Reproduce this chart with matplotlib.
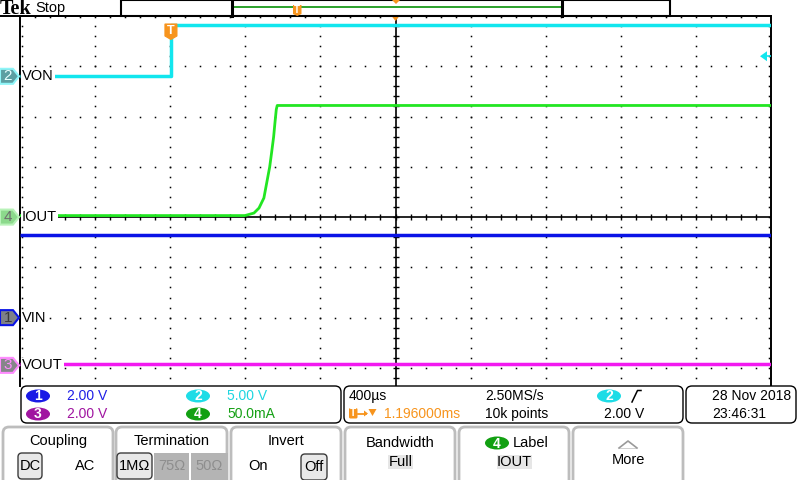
import matplotlib
matplotlib.use('Agg')
import matplotlib.pyplot as plt
from matplotlib.patches import FancyBboxPatch, Polygon, Ellipse, Rectangle
import numpy as np

plt.rcParams['font.family'] = ['Liberation Sans', 'DejaVu Sans']

# ---------------- data ----------------
time_div_us = 400.0          # 400 us/div
trigger_delay_us = 1196.0    # horizontal position (trigger -> center)
ch_names = ['VIN', 'VON', 'VOUT', 'IOUT']
ch_scale = [2.0, 5.0, 2.0, 50.0]          # V/div, V/div, V/div, mA/div
ch_offset_div = [-2.0, 2.8, -2.95, 0.0]   # ground marker positions (div)
trigger_level_v = 2.0

von_t_us = [-804, 0, 0, 3196]
von_v = [0.0, 0.0, 5.1, 5.1]
iout_t_us = [-804, 394, 442, 469, 495, 513, 526, 536, 547, 554, 561, 566, 3196]
iout_ma = [1.5, 1.5, 4, 9, 19, 37, 50, 64, 80, 94, 107, 111, 111]
vin_t_us = [-804, 3196]
vin_v = [3.3, 3.3]
vout_t_us = [-804, 3196]
vout_v = [0.04, 0.04]

readout_scales = ['2.00 V', '5.00 V', '2.00 V', '50.0mA']
# ---------------------------------------

C_CYAN = '#12E6EE'
C_GREEN = '#22E622'
C_BLUE = '#0A14E6'
C_MAG = '#F219F0'
C_ORANGE = '#F7941D'

fig = plt.figure(figsize=(8, 4.8), dpi=100)
fig.patch.set_facecolor('white')

W, H = 800, 480
L, T_, R, B = 20, 16, 771, 386
ax = fig.add_axes([L / W, 1 - B / H, (R - L) / W, (B - T_) / H], zorder=1)
x0 = trigger_delay_us - 5 * time_div_us
x1 = trigger_delay_us + 5 * time_div_us
ymin, ymax = -3.36, 4.0
ax.set_xlim(x0, x1)
ax.set_ylim(ymin, ymax)
ax.set_xticks([])
ax.set_yticks([])
for s in ['top', 'left', 'right']:
    ax.spines[s].set_color('black')
    ax.spines[s].set_linewidth(1.4)
ax.spines['bottom'].set_visible(False)

px_x = (x1 - x0) / (R - L)      # us per pixel
px_y = (ymax - ymin) / (B - T_)  # div per pixel

# graticule dots
dot = dict(ls='none', marker='s', ms=1.1, mew=0, color='black', zorder=1)
minor_y = np.arange(-16, 21) * 0.2
minor_y = minor_y[(minor_y > ymin) & (minor_y < ymax)]
minor_x = x0 + np.arange(1, 50) * time_div_us / 5
for k in range(1, 10):
    if k == 5:
        continue
    mx = x0 + k * time_div_us
    ax.plot(np.full(len(minor_y), mx), minor_y, **dot)
for my in [-3, -2, -1, 1, 2, 3]:
    ax.plot(minor_x, np.full(len(minor_x), my), **dot)
# edge ticks
ax.plot(np.full(len(minor_y), x0 + 2 * px_x), minor_y, **dot)
ax.plot(np.full(len(minor_y), x1 - 2 * px_x), minor_y, **dot)
ax.plot(minor_x, np.full(len(minor_x), ymax - 1.5 * px_y), **dot)
# center cross with ticks
ax.axvline(trigger_delay_us, color='black', lw=1.2, zorder=1)
ax.axhline(0, color='black', lw=1.2, zorder=1)
ax.plot(minor_x, np.zeros(len(minor_x)), ls='none', marker='|', ms=4, mew=1, color='black', zorder=1)
ax.plot(np.full(len(minor_y), trigger_delay_us), minor_y, ls='none', marker='_', ms=4, mew=1, color='black', zorder=1)

# traces
def to_div(vals, ch):
    return np.asarray(vals, float) / ch_scale[ch] + ch_offset_div[ch]

ax.plot(vin_t_us, to_div(vin_v, 0), color=C_BLUE, lw=2.5, zorder=3, solid_capstyle='butt')
ax.plot(vout_t_us, to_div(vout_v, 2), color=C_MAG, lw=2.5, zorder=3, solid_capstyle='butt')
ax.plot(iout_t_us, to_div(iout_ma, 3), color=C_GREEN, lw=2.0, zorder=3, solid_capstyle='butt')
ax.plot(von_t_us, to_div(von_v, 1), color=C_CYAN, lw=2.5, zorder=3, solid_capstyle='butt')

# channel labels on screen
for i, name in enumerate(ch_names):
    ax.text(2 / (R - L), ch_offset_div[i], name, transform=ax.get_yaxis_transform(),
            ha='left', va='center', fontsize=10.5, color='black', zorder=5,
            bbox=dict(fc='white', ec='none', pad=0.6))

# channel ground markers (left of graticule)
mk_style = [
    ('#7E8088', C_BLUE, '#3A3A3A'),
    ('#5C9FA2', '#8FF5F8', '#E8FFFF'),
    ('#86868A', '#FF8CFF', '#FF8CFF'),
    ('#8CD98C', '#B8F2B8', '#6E6E6E'),
]
yt = ax.get_yaxis_transform()
hw = 7.5 * px_y
for i in range(4):
    yc = ch_offset_div[i]
    fc, ec, tc = mk_style[i]
    pts = [(-20 / (R - L), yc - hw), (-7 / (R - L), yc - hw), (-1 / (R - L), yc),
           (-7 / (R - L), yc + hw), (-20 / (R - L), yc + hw)]
    ax.add_patch(Polygon(pts, closed=True, transform=yt, fc=fc, ec=ec, lw=1.5, clip_on=False, zorder=6))
    ax.text(-12 / (R - L), yc, str(i + 1), transform=yt, ha='center', va='center',
            fontsize=11, color=tc, clip_on=False, zorder=7)

# trigger position marker "T"
xt = ax.get_xaxis_transform()
hx = 6 * px_x
top_f = lambda p: (B - p) / (B - T_)
ax.add_patch(Polygon([(-hx, top_f(24)), (hx, top_f(24)), (hx, top_f(36)), (0, top_f(39.5)), (-hx, top_f(36))],
                     closed=True, transform=xt, fc=C_ORANGE, ec=C_ORANGE, lw=0.8, zorder=6, clip_on=False))
ax.text(0, top_f(30.5), 'T', transform=xt, ha='center', va='center', color='white',
        fontsize=9, fontweight='bold', zorder=7)
# expansion point marker at top center
ax.add_patch(Polygon([(trigger_delay_us - 4 * px_x, 1.0), (trigger_delay_us + 4 * px_x, 1.0),
                      (trigger_delay_us, top_f(21))], closed=True, transform=xt,
                     fc=C_ORANGE, ec='none', zorder=6, clip_on=False))
# trigger level marker on right
ty = ch_offset_div[1] + trigger_level_v / ch_scale[1]
ax.add_patch(Polygon([((760 - L) / (R - L), ty), ((767 - L) / (R - L), ty + 5 * px_y),
                      ((767 - L) / (R - L), ty - 5 * px_y)], closed=True, transform=yt,
                     fc=C_CYAN, ec='none', zorder=6))
ax.plot([(767 - L) / (R - L), 1.0], [ty, ty], transform=yt, color=C_CYAN, lw=1.2, zorder=6)

# ---------------- overlay (UI chrome) ----------------
ov = fig.add_axes([0, 0, 1, 1], zorder=5)
ov.set_xlim(0, W)
ov.set_ylim(H, 0)
ov.axis('off')
ov.patch.set_alpha(0)

def rbox(x, y, w, h, ec='black', fc='white', lw=1.0, r=6, z=2):
    ov.add_patch(FancyBboxPatch((x, y), w, h, boxstyle=f'round,pad=0,rounding_size={r}',
                                ec=ec, fc=fc, lw=lw, zorder=z))

def txt(x, y, s, ha='left', color='black', size=10, **kw):
    ov.text(x, y, s, ha=ha, va='center', color=color, fontsize=size, zorder=5, **kw)

def badge(x, y, n, color):
    ov.add_patch(Ellipse((x, y), 24, 13, fc=color, ec='none', zorder=4))
    ov.text(x, y + 0.5, n, ha='center', va='center', color='white', fontsize=10,
            fontweight='bold', zorder=5)

# top bar
ov.text(-0.5, 8.5, 'Tek', ha='left', va='center', fontsize=14.5, fontweight='bold',
        family=['Liberation Serif', 'DejaVu Serif'], zorder=5)
txt(35, 8, 'Stop', size=10.5)
ov.plot([0, 121], [15.7, 15.7], color='black', lw=1.4, zorder=3)
ov.add_patch(Rectangle((121, 0), 549, 15.5, fc='white', ec='black', lw=1.5, zorder=2))
ov.plot([233, 561], [7, 7], color='#1A9A1A', lw=1.3, zorder=3)
ov.plot([232, 232], [0, 15.5], color='black', lw=2.2, zorder=4)
ov.plot([561.5, 561.5], [0, 15.5], color='black', lw=2.2, zorder=4)
ov.add_patch(Polygon([(293, 5), (301.5, 5), (301.5, 14), (297.2, 16), (293, 14)], closed=True,
                     fc=C_ORANGE, ec='none', zorder=4))
ov.text(297.2, 10, 'T', ha='center', va='center', color='white', fontsize=7, fontweight='bold', zorder=5)
ov.add_patch(Polygon([(392, 0), (400, 0), (396, 4)], closed=True, fc=C_ORANGE, ec='none', zorder=4))

# readout boxes
rbox(21, 386, 320, 37)
rbox(344, 386, 339, 37)
rbox(686, 386, 110, 37)

colors_ro = ['#1E1EE6', '#1ED6E0', '#A014A0', '#14A014']
badge_cols = ['#1A1AE6', '#1EDCE6', '#A014A0', '#12A012']
pos = [(38, 396), (198, 396), (38, 414), (198, 414)]
for i in range(4):
    bx, by = pos[i]
    badge(bx, by, str(i + 1), badge_cols[i])
    txt(bx + 29, by, readout_scales[i], color=colors_ro[i])

txt(349, 396, '400µs')
ov.add_patch(FancyBboxPatch((349, 408), 8.5, 10.5, boxstyle='round,pad=0,rounding_size=1.5',
                            fc=C_ORANGE, ec='none', zorder=4))
ov.text(353.2, 413.5, 'T', ha='center', va='center', color='white', fontsize=7.5, fontweight='bold', zorder=5)
ov.plot([358, 366], [413.5, 413.5], color=C_ORANGE, lw=1.3, zorder=4)
ov.add_patch(Polygon([(364, 410.5), (368, 413.5), (364, 416.5)], closed=True, fc=C_ORANGE, ec='none', zorder=4))
ov.add_patch(Polygon([(368.5, 409), (376.5, 409), (372.5, 416)], closed=True, fc=C_ORANGE, ec='none', zorder=4))
txt(384, 414, '1.196000ms', color=C_ORANGE)
txt(485, 396, '2.50MS/s')
txt(485, 414, '10k points')
badge(609, 396, '2', '#1EDCE6')
ov.plot([632, 637.5, 641], [402, 390.5, 390.5], color='black', lw=1.1, zorder=4)
txt(604, 414, '2.00 V')
txt(712, 396, '28 Nov 2018')
txt(712, 414, '23:46:31')

# menu buttons
btns = [(3, 110), (116, 111), (231, 110), (345, 110), (459, 110), (573, 110)]
for bx, bw in btns:
    rbox(bx, 427, bw, 60, ec='#BDBDBD', lw=2.0, r=6, z=1)

txt(58, 441, 'Coupling', ha='center', size=10.5)
rbox(18, 453, 24, 26, ec='#3C3C3C', fc='#E8E8E8', lw=1.0, r=4, z=3)
txt(30, 466, 'DC', ha='center', size=10.5)
txt(85, 466, 'AC', ha='center', size=10.5)

txt(172, 441, 'Termination', ha='center', size=10.5)
rbox(117, 453, 35, 26, ec='#3C3C3C', fc='#E8E8E8', lw=1.0, r=4, z=3)
txt(134.5, 466, '1MΩ', ha='center', size=10.5)
ov.add_patch(Rectangle((154, 453), 35, 28, fc='#B4B4B4', ec='none', zorder=3))
ov.add_patch(Rectangle((191, 453), 37, 28, fc='#B4B4B4', ec='none', zorder=3))
txt(171.5, 466, '75Ω', ha='center', color='#8E8E8E', size=10.5)
txt(209.5, 466, '50Ω', ha='center', color='#8E8E8E', size=10.5)

txt(286, 441, 'Invert', ha='center', size=10.5)
txt(258, 466, 'On', ha='center', size=10.5)
rbox(301, 454, 26, 26, ec='#3C3C3C', fc='#E8E8E8', lw=1.0, r=4, z=3)
txt(314, 467, 'Off', ha='center', size=10.5)

txt(400, 443, 'Bandwidth', ha='center', size=10.5)
ov.add_patch(Rectangle((388, 455), 25, 14, fc='#E6E6E6', ec='none', zorder=3))
txt(400.5, 462, 'Full', ha='center', size=10.5)

badge(497, 443, '4', '#12A012')
txt(513, 443, 'Label', size=10.5)
ov.add_patch(Rectangle((497, 455), 35, 14, fc='#E6E6E6', ec='none', zorder=3))
txt(514.5, 462, 'IOUT', ha='center', size=10.5)

ov.plot([619, 628, 637], [448, 441, 448], color='#9A9A9A', lw=1.2, zorder=4)
ov.add_patch(Rectangle((619, 447.5), 18, 1.8, fc='#D0D0D0', ec='none', zorder=3))
txt(628, 460, 'More', ha='center', size=10.5)

fig.savefig('out.png', dpi=100, facecolor='white')
